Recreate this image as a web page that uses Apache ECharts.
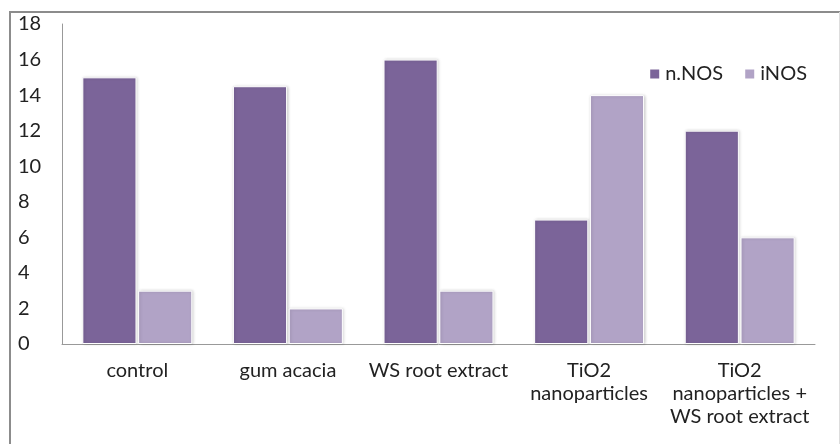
<!DOCTYPE html>
<html>
<head>
<meta charset="utf-8">
<script src="https://cdn.jsdelivr.net/npm/echarts@6/dist/echarts.min.js"></script>
<style>
  html, body { margin: 0; padding: 0; background: #fff; }
  #chart { width: 840px; height: 444px; }
</style>
</head>
<body>
<div id="chart"></div>
<script>
// Groups along the x axis
const categories = [
  'control',
  'gum acacia',
  'WS root extract',
  'TiO2\nnanoparticles',
  'TiO2\nnanoparticles +\nWS root extract'
];
// Expression values per group
const nNOS = [15, 14.5, 16, 7, 12];
const iNOS = [3, 2, 3, 14, 6];
const seriesNames = ['n.NOS', 'iNOS'];
const yTicks = { min: 0, max: 18, interval: 2 };

const FONT = 'Lato';
const FS = 20;
const chart = echarts.init(document.getElementById('chart'), null, { renderer: 'canvas' });

const barStyle = (color) => ({
  color: color,
  borderColor: '#ffffff',
  borderWidth: 1,
  shadowColor: 'rgba(0,0,0,0.18)',
  shadowBlur: 3,
  shadowOffsetX: 1,
  shadowOffsetY: 0
});

chart.setOption({
  animation: false,
  backgroundColor: '#ffffff',
  textStyle: { fontFamily: FONT },
  grid: { left: 62, right: 25, top: 24, bottom: 100, containLabel: false },
  legend: {
    data: seriesNames,
    right: 28,
    top: 59,
    itemWidth: 11,
    itemHeight: 11,
    itemGap: 20,
    icon: 'rect',
    textStyle: { fontFamily: FONT, fontSize: FS, color: '#222' }
  },
  xAxis: {
    type: 'category',
    data: categories,
    axisLine: { lineStyle: { color: '#999', width: 1 } },
    axisTick: { show: false },
    axisLabel: {
      interval: 0,
      fontFamily: FONT,
      fontSize: FS,
      color: '#222',
      margin: 15,
      lineHeight: 23,
      align: 'center'
    }
  },
  yAxis: {
    type: 'value',
    min: yTicks.min,
    max: yTicks.max,
    interval: yTicks.interval,
    axisLine: { show: true, lineStyle: { color: '#999', width: 1 } },
    axisTick: { show: false },
    splitLine: { show: false },
    axisLabel: {
      fontFamily: FONT,
      fontSize: FS,
      color: '#222',
      align: 'left',
      margin: 44
    }
  },
  series: [
    {
      name: seriesNames[0],
      type: 'bar',
      data: nNOS,
      barGap: '3%',
      barCategoryGap: '27%',
      itemStyle: barStyle('#7B6499')
    },
    {
      name: seriesNames[1],
      type: 'bar',
      data: iNOS,
      barGap: '3%',
      barCategoryGap: '27%',
      itemStyle: barStyle('#B1A3C6')
    }
  ],
  graphic: [
    // chart frame (top and left edges dark, right edge light)
    { type: 'line', shape: { x1: 9, y1: 12, x2: 840, y2: 12 }, style: { stroke: '#8c8c8c', lineWidth: 2 }, silent: true },
    { type: 'line', shape: { x1: 10, y1: 11, x2: 10, y2: 444 }, style: { stroke: '#8c8c8c', lineWidth: 2 }, silent: true },
    { type: 'line', shape: { x1: 839.5, y1: 12, x2: 839.5, y2: 444 }, style: { stroke: '#dddddd', lineWidth: 1 }, silent: true }
  ]
});
</script>
</body>
</html>
